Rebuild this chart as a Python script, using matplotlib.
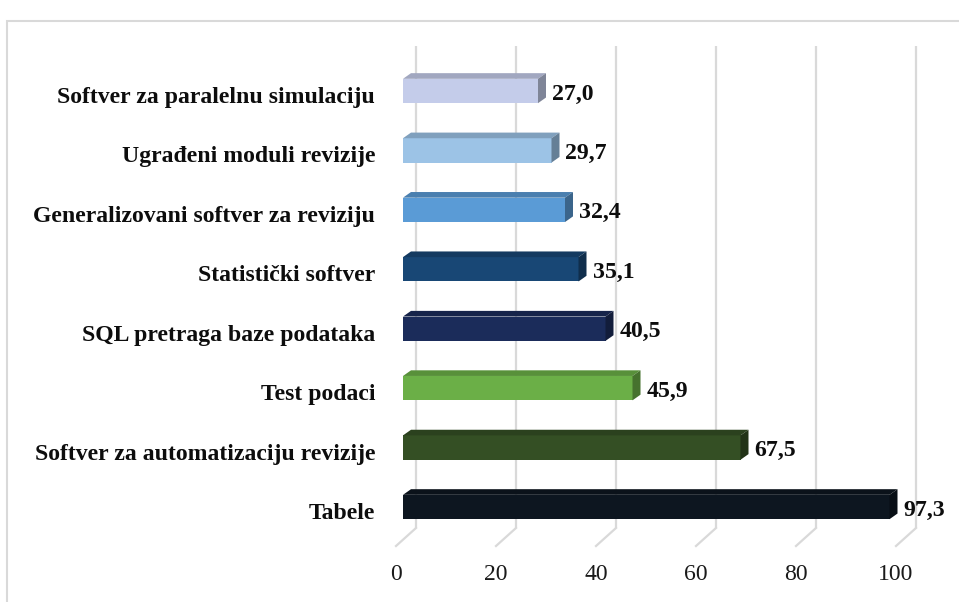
import matplotlib
matplotlib.use("Agg")
import matplotlib.pyplot as plt
import matplotlib.colors as mcolors
from matplotlib.patches import Polygon, Rectangle
from matplotlib.transforms import ScaledTranslation

# ---- data ----
categories = [
    "Tabele",
    "Softver za automatizaciju revizije",
    "Test podaci",
    "SQL pretraga baze podataka",
    "Statistički softver",
    "Generalizovani softver za reviziju",
    "Ugrađeni moduli revizije",
    "Softver za paralelnu simulaciju",
]
values = [97.3, 67.5, 45.9, 40.5, 35.1, 32.4, 29.7, 27.0]
value_labels = ["97,3", "67,5", "45,9", "40,5", "35,1", "32,4", "29,7", "27,0"]
bar_colors = ["#0D1620", "#344F24", "#6BAF47", "#1B2C5A",
              "#184775", "#5A9BD6", "#9CC3E6", "#C4CCEA"]
x_ticks = [0, 20, 40, 60, 80, 100]

# ---- style ----
FONT = "Liberation Serif"
FS = 17.1
W, H, DPI = 959, 602, 100

fig = plt.figure(figsize=(W / DPI, H / DPI), dpi=DPI)
fig.patch.set_facecolor("white")

ax = fig.add_axes([403 / W, (H - 560.5) / H, 500 / W, 523 / H])
ax.set_xlim(0, 100)
ax.set_ylim(-0.9, 7.9)
ax.set_frame_on(False)

bar_h = 0.41      # front face height (data units)
dep_x = 1.6       # 3D depth in x (data units)
dep_y = 0.095     # 3D depth in y (data units)

# gridlines (back wall + floor)
grid_c = "#D9D9D9"
back_dx, front_dx = 2.6, -1.4
back_y, front_y, top_y = -0.353, -0.656, 7.757
for t in x_ticks:
    ax.plot([t + back_dx, t + back_dx], [back_y, top_y], color=grid_c, lw=1.6,
            zorder=0, clip_on=False, solid_capstyle="butt")
    ax.plot([t + front_dx, t + back_dx], [front_y, back_y], color=grid_c, lw=1.6,
            zorder=0, clip_on=False)

def shade(c, f):
    r, g, b = mcolors.to_rgb(c)
    return (r * f, g * f, b * f)

ypos = list(range(len(categories)))
ax.barh(ypos, values, height=bar_h, color=bar_colors, zorder=3, linewidth=0)
for y, v, c in zip(ypos, values, bar_colors):
    top = y + bar_h / 2
    bot = y - bar_h / 2
    ax.add_patch(Polygon([(0, top), (v, top), (v + dep_x, top + dep_y), (dep_x, top + dep_y)],
                         closed=True, facecolor=shade(c, 0.82), edgecolor="none", zorder=3))
    ax.add_patch(Polygon([(v, bot), (v + dep_x, bot + dep_y), (v + dep_x, top + dep_y), (v, top)],
                         closed=True, facecolor=shade(c, 0.65), edgecolor="none", zorder=3))

# value labels
lab_tr = ax.transData + ScaledTranslation(0, -3 / DPI, fig.dpi_scale_trans)
for y, v, s in zip(ypos, values, value_labels):
    ax.text(v + dep_x + 1.2, y, s, transform=lab_tr, ha="left", va="center",
            fontsize=FS, fontweight="bold", family=FONT, color="#0D0D0D", zorder=5)

# category axis
ax.set_yticks(ypos)
ax.set_yticklabels(categories, fontsize=FS, fontweight="bold", family=FONT, color="#0D0D0D")
ax.tick_params(axis="y", length=0, pad=20)
for lab in ax.get_yticklabels():
    lab.set_transform(lab.get_transform() + ScaledTranslation(0, -4 / DPI, fig.dpi_scale_trans))

# value axis
ax.set_xticks(x_ticks)
ax.set_xticklabels([str(t) for t in x_ticks], fontsize=FS, family=FONT, color="#1A1A1A")
ax.tick_params(axis="x", length=0, pad=0)
for lab in ax.get_xticklabels():
    lab.set_transform(lab.get_transform() + ScaledTranslation(-7 / DPI, -4 / DPI, fig.dpi_scale_trans))

# outer chart border
fig.patches.append(Rectangle((7 / W, -0.1), 2, 1 - 21 / H + 0.1, transform=fig.transFigure,
                             fill=False, edgecolor="#D9D9D9", lw=1.5))

fig.savefig("out.png", dpi=DPI)
